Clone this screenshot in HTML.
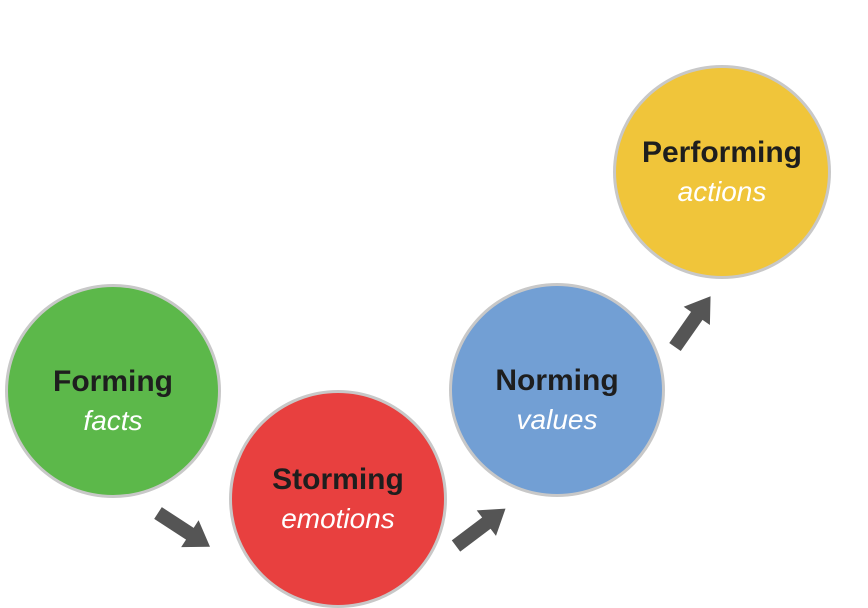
<!DOCTYPE html>
<html><head><style>
body{margin:0;width:868px;height:605px;background:#fff;overflow:hidden;position:relative;font-family:"Liberation Sans",sans-serif}
.c{position:absolute;border-radius:50%;border:3px solid #c8c8c8;box-sizing:border-box;text-align:center}
.c b{position:absolute;left:0;right:0;font-size:30px;color:#1e1e1e;font-weight:bold}
.c i{position:absolute;left:0;right:0;font-size:28px;color:#fff}
</style></head><body>
<div class="c" style="left:5px;top:284px;width:216px;height:214px;background:#5cb84a"><b style="top:78px">Forming</b><i style="top:118px">facts</i></div>
<div class="c" style="left:229px;top:390px;width:218px;height:218px;background:#e8403f"><b style="top:70px">Storming</b><i style="top:110px">emotions</i></div>
<div class="c" style="left:449px;top:283px;width:216px;height:214px;background:#729fd4"><b style="top:78px">Norming</b><i style="top:118px">values</i></div>
<div class="c" style="left:613px;top:65px;width:218px;height:214px;background:#f0c53a"><b style="top:68px">Performing</b><i style="top:108px">actions</i></div>
<svg width="868" height="605" style="position:absolute;left:0;top:0">
<g fill="#555">
<polygon points="0,-7 38,-7 38,-16 62,0 38,16 38,7 0,7" transform="translate(158,513) rotate(33)"/>
<polygon points="0,-7 38,-7 38,-16 62,0 38,16 38,7 0,7" transform="translate(456,546) rotate(-37)"/>
<polygon points="0,-7 38,-7 38,-16 62,0 38,16 38,7 0,7" transform="translate(675,347) rotate(-55)"/>
</g></svg>
</body></html>
